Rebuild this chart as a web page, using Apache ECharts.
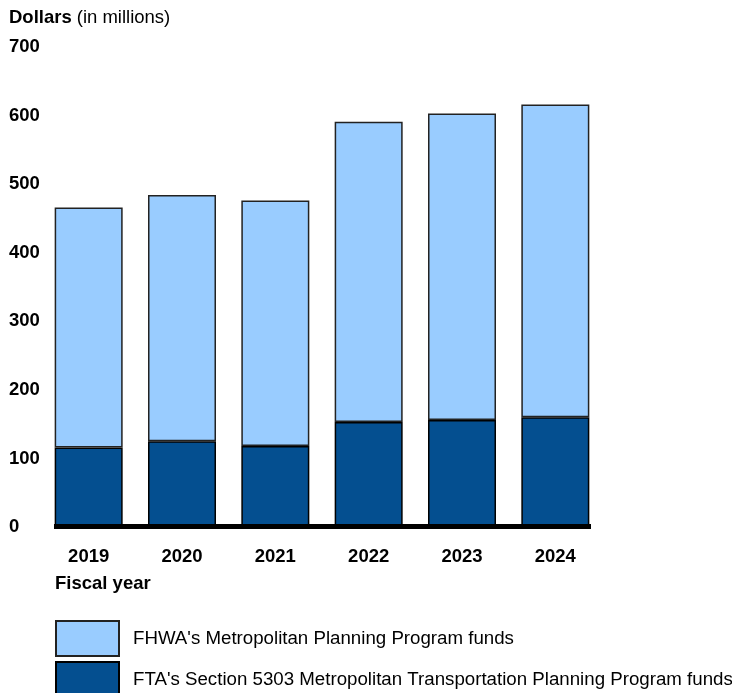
<!DOCTYPE html>
<html>
<head>
<meta charset="utf-8">
<script src="https://cdn.jsdelivr.net/npm/echarts@6/dist/echarts.min.js"></script>
<style>
  html, body { margin: 0; padding: 0; background: #fff; }
  #chart { width: 732px; height: 693px; }
</style>
</head>
<body>
<div id="chart"></div>
<script>
// fiscal years on the x axis
const years = ['2019', '2020', '2021', '2022', '2023', '2024']
// FTA Section 5303 funds (bottom, dark)
const ftaFunds = [116, 125, 118, 153, 156, 160]
// FHWA metropolitan planning funds (top, light)
const fhwaFunds = [350, 359, 358, 438, 447, 456]
const seriesNames = [
  "FHWA's Metropolitan Planning Program funds",
  "FTA's Section 5303 Metropolitan Transportation Planning Program funds"
]

const font = 'Liberation Sans, Arial, sans-serif'
const fs = 18.5
const chart = echarts.init(document.getElementById('chart'))

// one legend per row, stacked
function legendRow(name, top) {
  return {
    data: [name],
    left: 55,
    top: top,
    padding: 0,
    itemWidth: 63,
    itemHeight: 35,
    icon: 'rect',
    selectedMode: false,
    textStyle: { fontFamily: font, fontSize: 18.7, color: '#000', padding: [0, 0, 0, 9] }
  }
}

const option = {
  animation: false,
  textStyle: { fontFamily: font },
  title: [
    {
      text: '{b|Dollars} {r|(in millions)}',
      left: 9,
      top: 8,
      padding: 0,
      textStyle: {
        fontWeight: 'normal',
        rich: {
          b: { fontFamily: font, fontSize: fs, fontWeight: 'bold', color: '#000' },
          r: { fontFamily: font, fontSize: fs, fontWeight: 'normal', color: '#000' }
        }
      }
    },
    {
      text: 'Fiscal year',
      left: 55,
      top: 574,
      padding: 0,
      textStyle: { fontFamily: font, fontSize: fs, fontWeight: 'bold', color: '#000' }
    }
  ],
  legend: [legendRow(seriesNames[0], 620), legendRow(seriesNames[1], 661)],
  grid: { left: 42, top: 47, width: 560, bottom: 166, containLabel: false },
  xAxis: {
    type: 'category',
    data: years,
    axisLine: { show: false },
    axisTick: { show: false },
    axisLabel: { fontFamily: font, fontSize: fs, fontWeight: 'bold', color: '#000', margin: 20 }
  },
  yAxis: {
    type: 'value',
    min: 0,
    max: 700,
    interval: 100,
    splitLine: { show: false },
    axisLine: { show: false },
    axisTick: { show: false },
    axisLabel: {
      fontFamily: font,
      fontSize: fs,
      fontWeight: 'bold',
      color: '#000',
      align: 'left',
      margin: 33
    }
  },
  series: [
    {
      name: seriesNames[1],
      type: 'bar',
      stack: 'total',
      barWidth: 68,
      data: ftaFunds,
      itemStyle: { color: '#044f90', borderColor: '#000', borderWidth: 1.5 }
    },
    {
      name: seriesNames[0],
      type: 'bar',
      stack: 'total',
      barWidth: 68,
      data: fhwaFunds,
      itemStyle: { color: '#99ccff', borderColor: '#222', borderWidth: 1.5 }
    }
  ],
  graphic: [
    {
      type: 'rect',
      left: 54,
      top: 524,
      shape: { width: 537, height: 5 },
      style: { fill: '#000' },
      z: 100
    }
  ]
}

option && chart.setOption(option)
</script>
</body>
</html>
